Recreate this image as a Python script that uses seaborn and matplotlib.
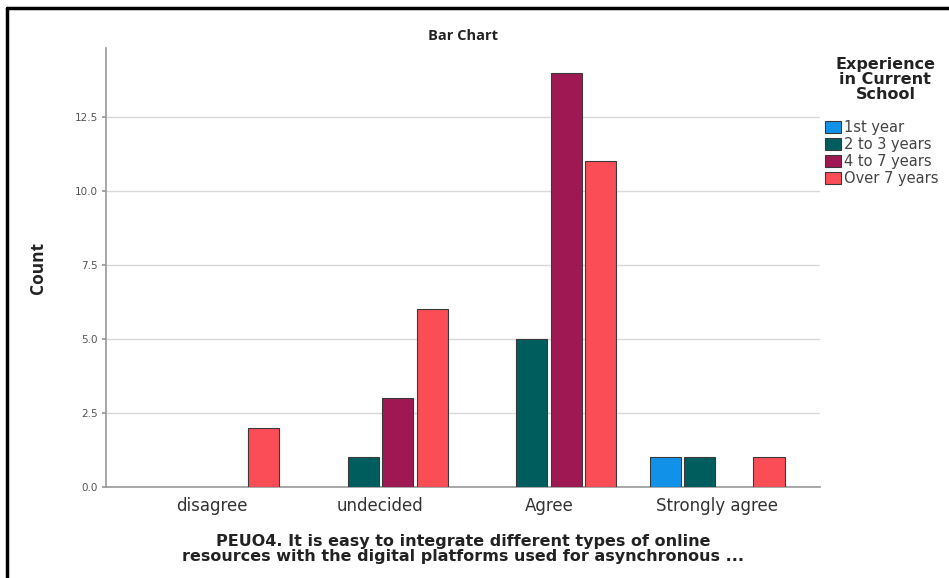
import matplotlib
matplotlib.use("Agg")
import matplotlib.pyplot as plt
from matplotlib.lines import Line2D
import seaborn as sns
import pandas as pd

# Response categories and experience groups
responses = ["disagree", "undecided", "Agree", "Strongly agree"]
experience = ["1st year", "2 to 3 years", "4 to 7 years", "Over 7 years"]
palette = ["#1192e8", "#005d5d", "#9f1853", "#fa4d56"]

# Counts per (response, experience) pair that occur in the data
resp_col = ["disagree",
            "undecided", "undecided", "undecided",
            "Agree", "Agree", "Agree",
            "Strongly agree", "Strongly agree", "Strongly agree"]
exp_col = ["Over 7 years",
           "2 to 3 years", "4 to 7 years", "Over 7 years",
           "2 to 3 years", "4 to 7 years", "Over 7 years",
           "1st year", "2 to 3 years", "Over 7 years"]
counts = [2,
          1, 3, 6,
          5, 14, 11,
          1, 1, 1]

yticks = [0.0, 2.5, 5.0, 7.5, 10.0, 12.5]

df = pd.DataFrame({"response": resp_col, "experience": exp_col, "count": counts})

sns.set_theme(style="white")
plt.rcParams["font.family"] = ["DejaVu Sans"]

fig = plt.figure(figsize=(9.49, 5.78), dpi=100)
ax = fig.add_axes([0.1117, 0.1574, 0.7523, 0.7596])

sns.barplot(data=df, x="response", y="count", hue="experience",
            order=responses, hue_order=experience, palette=palette,
            width=0.82, gap=0.1, edgecolor="#3a3a3a", linewidth=0.8,
            saturation=1, ax=ax, errorbar=None, zorder=3)

ax.set_xlim(-0.63, 3.61)
ax.set_ylim(0, 14.83)
ax.set_yticks(yticks)
ax.set_yticklabels([f"{v:.1f}" for v in yticks], fontsize=7.5, color="#555555")
ax.tick_params(axis="y", length=3, color="#999999", pad=3, left=True)
ax.tick_params(axis="x", length=0, pad=7)
for lbl in ax.get_xticklabels():
    lbl.set_fontsize(12)
    lbl.set_color("#333333")

ax.yaxis.grid(True, color="#d8d8d8", linewidth=1, zorder=0)
ax.set_axisbelow(True)
for side in ["top", "right"]:
    ax.spines[side].set_visible(False)
for side in ["left", "bottom"]:
    ax.spines[side].set_color("#999999")
    ax.spines[side].set_linewidth(1.2)

ax.set_ylabel("Count", fontsize=12.5, fontweight="bold", color="#222222",
              family="Open Sans", labelpad=20)
ax.set_xlabel("PEUO4. It is easy to integrate different types of online\n"
              "resources with the digital platforms used for asynchronous ...",
              fontsize=11.5, fontweight="bold", color="#222222",
              linespacing=0.95, labelpad=14)
ax.set_title("Bar Chart", fontsize=10.5, fontweight="bold", color="#222222",
             family="Open Sans", pad=6)

ax.get_legend().remove()
handles, labels = ax.get_legend_handles_labels()
leg = fig.legend(handles, labels, loc="upper left",
                 bbox_to_anchor=(0.869, 0.792), frameon=False,
                 prop={"size": 10.5, "family": "DejaVu Sans"},
                 handlelength=1.1, handleheight=0.9, handletextpad=0.25,
                 labelspacing=0.13, borderaxespad=0, borderpad=0)
for t in leg.get_texts():
    t.set_color("#444444")
fig.text(0.933, 0.902, "Experience\nin Current\nSchool", ha="center", va="top",
         fontsize=11.5, fontweight="bold", color="#222222", linespacing=1.0)

# outer frame
fig.add_artist(Line2D([0.0074, 1.0], [0.986, 0.986], transform=fig.transFigure,
                      color="black", linewidth=2.5))
fig.add_artist(Line2D([0.0074, 0.0074], [0.0, 0.986], transform=fig.transFigure,
                      color="black", linewidth=2.5))

fig.savefig("out.png", dpi=100)
